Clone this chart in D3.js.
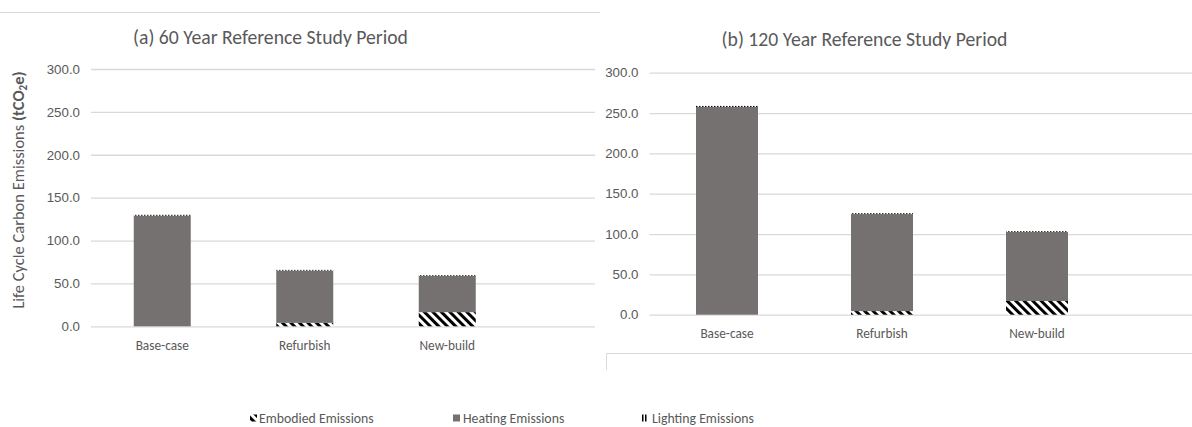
<!DOCTYPE html>
<html>
<head>
<meta charset="utf-8">
<script src="https://cdn.jsdelivr.net/npm/d3@7"></script>
<style>
  html, body { margin: 0; padding: 0; background: #fff; }
  svg { display: block; font-family: Carlito, Calibri, Lato, "Open Sans", sans-serif; }
</style>
</head>
<body>
<svg id="chart" width="1192" height="427"></svg>
<script>
// ---- data ----
const categories = ["Base-case", "Refurbish", "New-build"];
const seriesNames = ["Embodied Emissions", "Heating Emissions", "Lighting Emissions"];
const embodied60 = [0, 4, 16.5];
const heating60 = [129, 61, 42.3];
const lighting60 = [1, 0.8, 0.8];
const embodied120 = [0, 4.5, 17];
const heating120 = [257.5, 120.3, 85.5];
const lighting120 = [1.3, 1, 1];
const yTicks = [0, 50, 100, 150, 200, 250, 300];
const titles = ["(a) 60 Year Reference Study Period", "(b) 120 Year Reference Study Period"];
const yAxisTitle = "Life Cycle Carbon Emissions";

const svg = d3.select("#chart");
const textColor = "#595959";
const gridColor = "#d9d9d9";
const barColor = "#767171";

// patterns
const defs = svg.append("defs");
const pe = defs.append("pattern").attr("id", "embodied")
  .attr("patternUnits", "userSpaceOnUse").attr("width", 6).attr("height", 6)
  .attr("patternTransform", "rotate(-45)");
pe.append("rect").attr("width", 6).attr("height", 6).attr("fill", "#fff");
pe.append("rect").attr("width", 3).attr("height", 6).attr("fill", "#000");
const pl = defs.append("pattern").attr("id", "lighting")
  .attr("patternUnits", "userSpaceOnUse").attr("width", 3).attr("height", 3);
pl.append("rect").attr("width", 3).attr("height", 3).attr("fill", "#fff");
pl.append("rect").attr("width", 1.5).attr("height", 3).attr("fill", "#000");

const fills = ["url(#embodied)", barColor, "url(#lighting)"];

// frame lines
svg.append("line").attr("x1", 0).attr("x2", 600).attr("y1", 12.5).attr("y2", 12.5)
  .attr("stroke", gridColor).attr("stroke-width", 1);
svg.append("path").attr("d", "M606.5,370 V353.5 H1192")
  .attr("fill", "none").attr("stroke", gridColor).attr("stroke-width", 1);

const panels = [
  { emb: embodied60, heat: heating60, light: lighting60, title: titles[0],
    xRange: [91, 518.5], gridRight: 595, yRange: [326.3, 69], titleX: 270.5, titleY: 44, labelY: 349.5 },
  { emb: embodied120, heat: heating120, light: lighting120, title: titles[1],
    xRange: [649.5, 1114.5], gridRight: 1192, yRange: [314.7, 72.7], titleX: 864.5, titleY: 46, labelY: 338 }
];

panels.forEach(p => {
  const x = d3.scaleBand().domain(categories).range(p.xRange).paddingInner(0.6).paddingOuter(0.3);
  const y = d3.scaleLinear().domain([0, 300]).range(p.yRange);
  const g = svg.append("g");

  // gridlines + y labels
  const axis = d3.axisLeft(y).tickValues(yTicks).tickFormat(d3.format(".1f"))
    .tickSize(-(p.gridRight - p.xRange[0])).tickPadding(11);
  const ag = g.append("g").attr("transform", `translate(${p.xRange[0]},0)`).call(axis);
  ag.select(".domain").remove();
  ag.selectAll(".tick line").attr("stroke", gridColor).attr("stroke-width", 1.3);
  ag.selectAll(".tick text").attr("fill", textColor).style("font-size", "13.3px")
    .style("font-family", "inherit");

  // bars
  const rows = categories.map((c, i) => ({ cat: c, e: p.emb[i], h: p.heat[i], l: p.light[i] }));
  const stack = d3.stack().keys(["e", "h", "l"])(rows);
  stack.forEach((layer, li) => {
    g.append("g").selectAll("rect").data(layer).join("rect")
      .attr("x", d => x(d.data.cat))
      .attr("width", x.bandwidth())
      .attr("y", d => y(d[1]))
      .attr("height", d => Math.max(0, y(d[0]) - y(d[1])))
      .attr("fill", fills[li]);
  });

  // x labels
  g.append("g").selectAll("text").data(categories).join("text")
    .attr("x", d => x(d) + x.bandwidth() / 2).attr("y", p.labelY)
    .attr("text-anchor", "middle").attr("fill", textColor).style("font-size", "13.3px")
    .text(d => d);

  // title
  g.append("text").attr("x", p.titleX).attr("y", p.titleY).attr("text-anchor", "middle")
    .attr("fill", textColor).style("font-size", "19.7px").text(p.title);
});

// y axis title
const yt = svg.append("text").attr("transform", "translate(24,190) rotate(-90)")
  .attr("text-anchor", "middle").attr("fill", textColor).style("font-size", "16.5px");
yt.append("tspan").text(yAxisTitle + " ");
yt.append("tspan").attr("font-weight", "bold").text("(tCO");
yt.append("tspan").attr("font-weight", "bold").style("font-size", "11px").attr("dy", 3).text("2");
yt.append("tspan").attr("font-weight", "bold").attr("dy", -3).text("e)");

// legend
const legendItems = [
  { name: seriesNames[0], fill: fills[0], ix: 250, tx: 259 },
  { name: seriesNames[1], fill: fills[1], ix: 453, tx: 463 },
  { name: seriesNames[2], fill: fills[2], ix: 642, tx: 652 }
];
const lg = svg.append("g");
lg.selectAll("rect").data(legendItems).join("rect")
  .attr("x", d => d.ix).attr("y", 414.5).attr("width", d => d.fill === fills[2] ? 6 : 7).attr("height", 7)
  .attr("fill", d => d.fill);
lg.selectAll("text").data(legendItems).join("text")
  .attr("x", d => d.tx).attr("y", 422.5).attr("fill", textColor).style("font-size", "13.8px")
  .text(d => d.name);
</script>
</body>
</html>
